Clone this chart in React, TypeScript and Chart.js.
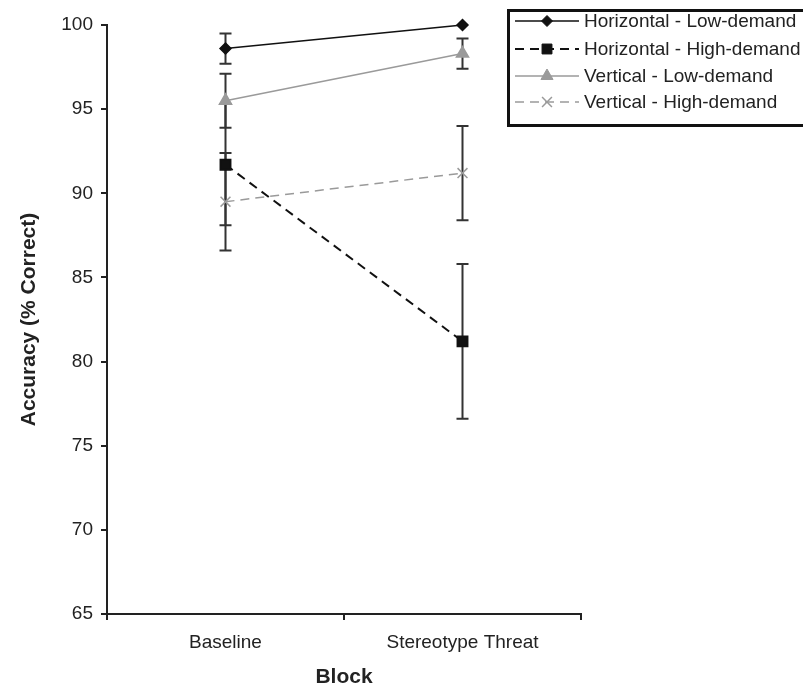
import React, { useEffect, useRef } from "react";
import { Chart, registerables } from "chart.js";
import { drawPoint } from "chart.js/helpers";

Chart.register(...registerables);

// ---- data ----
const categories = ["Baseline", "Stereotype Threat"];
const seriesLabels = [
  "Horizontal - Low-demand",
  "Horizontal - High-demand",
  "Vertical - Low-demand",
  "Vertical - High-demand",
];
const horizontalLow = [98.6, 100.0];
const horizontalLowErr = [0.9, 0];
const horizontalHigh = [91.7, 81.2];
const horizontalHighErr = [3.6, 4.6];
const verticalLow = [95.5, 98.3];
const verticalLowErr = [1.6, 0.9];
const verticalHigh = [89.5, 91.2];
const verticalHighErr = [2.9, 2.8];
const yTicks = [65, 70, 75, 80, 85, 90, 95, 100];
const xTitle = "Block";
const yTitle = "Accuracy (% Correct)";

const FONT = "'Liberation Sans', Arial, sans-serif";
const INK = "#222222";
const GREY = "#9a9a9a";

const errorBarPlugin = {
  id: "errorBars",
  beforeDatasetsDraw(chart: any) {
    const ctx = chart.ctx;
    const y = chart.scales.y;
    chart.data.datasets.forEach((ds: any, i: number) => {
      const meta = chart.getDatasetMeta(i);
      (ds.errors || []).forEach((e: number, j: number) => {
        if (!e) return;
        const x = meta.data[j].x;
        const top = y.getPixelForValue(ds.data[j] + e);
        const bot = y.getPixelForValue(ds.data[j] - e);
        ctx.save();
        ctx.strokeStyle = "#333333";
        ctx.lineWidth = 2;
        ctx.setLineDash([]);
        ctx.beginPath();
        ctx.moveTo(x, top);
        ctx.lineTo(x, bot);
        ctx.moveTo(x - 6, top);
        ctx.lineTo(x + 6, top);
        ctx.moveTo(x - 6, bot);
        ctx.lineTo(x + 6, bot);
        ctx.stroke();
        ctx.restore();
      });
    });
  },
};

const boxLegendPlugin = {
  id: "boxLegend",
  afterDraw(chart: any) {
    const ctx = chart.ctx;
    ctx.save();
    ctx.lineWidth = 3;
    ctx.strokeStyle = "#111111";
    ctx.setLineDash([]);
    ctx.strokeRect(508.5, 10.5, 310, 115);
    const rows = [21, 49, 76, 102];
    chart.data.datasets.forEach((ds: any, i: number) => {
      const yy = rows[i];
      ctx.save();
      ctx.strokeStyle = ds.borderColor;
      ctx.lineWidth = ds.borderWidth;
      ctx.setLineDash(ds.borderDash || []);
      ctx.beginPath();
      ctx.moveTo(515, yy);
      ctx.lineTo(579, yy);
      ctx.stroke();
      ctx.setLineDash([]);
      ctx.fillStyle = ds.pointBackgroundColor;
      ctx.strokeStyle = ds.pointBorderColor;
      ctx.lineWidth = ds.pointStyle === "crossRot" ? 1.5 : 1;
      drawPoint(ctx, { pointStyle: ds.pointStyle, rotation: 0, radius: ds.pointRadius, borderWidth: 1 }, 547, yy);
      ctx.restore();
      ctx.fillStyle = INK;
      ctx.font = `19px ${FONT}`;
      ctx.textBaseline = "middle";
      ctx.textAlign = "left";
      ctx.fillText(ds.label, 584, yy + 1);
    });
    ctx.restore();
  },
};

export default function App() {
  const ref = useRef<HTMLCanvasElement>(null);
  useEffect(() => {
    if (!ref.current) return;
    const chart = new Chart(ref.current, {
      type: "line",
      data: {
        labels: categories,
        datasets: [
          {
            label: seriesLabels[0],
            data: horizontalLow,
            errors: horizontalLowErr,
            borderColor: "#111111",
            borderWidth: 1.5,
            pointStyle: "rectRot",
            pointRadius: 5.5,
            pointBackgroundColor: "#111111",
            pointBorderColor: "#111111",
            clip: false,
          },
          {
            label: seriesLabels[1],
            data: horizontalHigh,
            errors: horizontalHighErr,
            borderColor: "#111111",
            borderWidth: 2,
            borderDash: [9, 6],
            pointStyle: "rect",
            pointRadius: 7,
            pointBackgroundColor: "#111111",
            pointBorderColor: "#111111",
            clip: false,
          },
          {
            label: seriesLabels[2],
            data: verticalLow,
            errors: verticalLowErr,
            borderColor: GREY,
            borderWidth: 1.5,
            pointStyle: "triangle",
            pointRadius: 7,
            pointBackgroundColor: GREY,
            pointBorderColor: GREY,
            clip: false,
          },
          {
            label: seriesLabels[3],
            data: verticalHigh,
            errors: verticalHighErr,
            borderColor: GREY,
            borderWidth: 1.5,
            borderDash: [9, 6],
            pointStyle: "crossRot",
            pointRadius: 7,
            pointBorderWidth: 1.5,
            pointBackgroundColor: GREY,
            pointBorderColor: GREY,
            clip: false,
          },
        ] as any,
      },
      options: {
        responsive: false,
        animation: false,
        devicePixelRatio: 1,
        layout: { padding: { top: 25, right: 222, left: 0, bottom: 0 } },
        plugins: { legend: { display: false }, tooltip: { enabled: false } },
        elements: { line: { tension: 0 } },
        scales: {
          x: {
            type: "category",
            offset: true,
            grid: {
              offset: true,
              drawOnChartArea: false,
              drawTicks: true,
              tickLength: 6,
              color: INK,
              lineWidth: 2,
            },
            border: { color: INK, width: 2 },
            ticks: { font: { family: FONT, size: 19 }, color: INK, padding: 11 },
            title: {
              display: true,
              text: xTitle,
              font: { family: FONT, size: 21, weight: "bold", lineHeight: 0.9 },
              color: INK,
              padding: 0,
            },
            afterFit: (s: any) => {
              s.height = 73;
            },
          },
          y: {
            min: 65,
            max: 100,
            afterBuildTicks: (s: any) => {
              s.ticks = yTicks.map((v) => ({ value: v }));
            },
            grid: {
              drawOnChartArea: false,
              drawTicks: true,
              tickLength: 6,
              color: INK,
              lineWidth: 2,
            },
            border: { color: INK, width: 2 },
            ticks: { font: { family: FONT, size: 19 }, color: INK, padding: 8 },
            title: {
              display: true,
              text: yTitle,
              font: { family: FONT, size: 21, weight: "bold" },
              color: INK,
              padding: { top: 17, bottom: 0 },
            },
            afterFit: (s: any) => {
              s.width = 107;
            },
          },
        },
      } as any,
      plugins: [errorBarPlugin, boxLegendPlugin],
    });
    return () => chart.destroy();
  }, []);
  return (
    <div style={{ position: "fixed", left: 0, top: 0, width: 803, height: 687, background: "#fff" }}>
      <canvas ref={ref} width={803} height={687} style={{ display: "block" }} />
    </div>
  );
}
